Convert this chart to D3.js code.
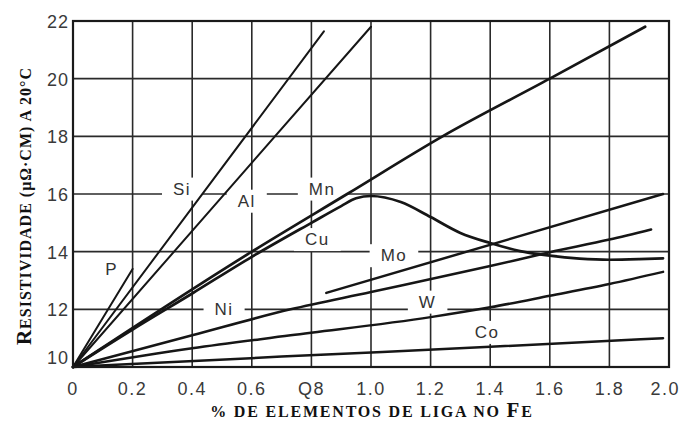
<!DOCTYPE html>
<html>
<head>
<meta charset="utf-8">
<script src="https://cdn.jsdelivr.net/npm/d3@7"></script>
<style>
  body { margin: 0; background: #fff; }
  svg { display: block; }
</style>
</head>
<body>
<div id="chart"></div>
<script>
// % de elemento de liga vs resistividade a 20C
var xTicks = [0, 0.2, 0.4, 0.6, 0.8, 1.0, 1.2, 1.4, 1.6, 1.8, 2.0];
var xTickLabels = ["0", "0.2", "0.4", "0.6", "Q8", "1.0", "1.2", "1.4", "1.6", "1.8", "2.0"];
var yTicks = [10, 12, 14, 16, 18, 20, 22];

var pData = [[0, 10], [0.2, 13.4]];
var siData = [[0, 10], [0.842, 21.64]];
var alData = [[0, 10], [1.0, 21.8]];
var mnData = [[0, 10], [0.6, 14.0], [0.92, 16.0], [1.24, 18.0], [1.6, 20.0], [1.92, 21.8]];
var cuData = [[0, 10], [0.2, 11.3], [0.4, 12.55], [0.6, 13.82], [0.8, 15.0], [0.9, 15.58],
  [0.95, 15.85], [1.0, 15.93], [1.1, 15.72], [1.2, 15.2], [1.3, 14.65], [1.4, 14.3],
  [1.5, 14.02], [1.6, 13.86], [1.7, 13.76], [1.8, 13.72], [1.9, 13.74], [1.98, 13.77]];
var moData = [[0.85, 12.57], [1.98, 16.0]];
var niData = [[0, 10], [0.4, 11.1], [0.73, 12.0], [1.0, 12.6], [1.4, 13.5], [1.6, 13.98], [1.8, 14.42], [1.94, 14.77]];
var wData = [[0, 10], [0.4, 10.65], [0.73, 11.1], [1.2, 11.73], [1.4, 12.07], [1.6, 12.47], [1.8, 12.88], [1.98, 13.3]];
var coData = [[0, 10], [0.7, 10.36], [1.4, 10.7], [1.98, 11.0]];

var labelNames = ["P", "Si", "Al", "Mn", "Cu", "Ni", "Mo", "W", "Co"];
var labelX = [0.13, 0.366, 0.583, 0.836, 0.82, 0.507, 1.077, 1.19, 1.39];
var labelY = [13.37, 16.17, 15.75, 16.17, 14.42, 12.0, 13.86, 12.25, 11.2];

var width = 681, height = 421;

var svg = d3.select("#chart").append("svg")
  .attr("width", width)
  .attr("height", height);

var x = d3.scaleLinear().domain([0, 2]).range([73, 669]);
var y = d3.scaleLinear().domain([10, 22]).range([367, 21]);

var gridG = svg.append("g");
var bgG = svg.append("g");
var lineG = svg.append("g");
var textG = svg.append("g");

// grid
gridG.selectAll("line.v")
  .data(xTicks.slice(1, -1))
  .enter().append("line")
  .attr("x1", function(d) { return x(d); })
  .attr("x2", function(d) { return x(d); })
  .attr("y1", y(10))
  .attr("y2", y(22))
  .style("stroke", "#2a2a2a")
  .style("stroke-width", 1.6);

gridG.selectAll("line.h")
  .data(yTicks.slice(1, -1))
  .enter().append("line")
  .attr("x1", x(0))
  .attr("x2", x(2))
  .attr("y1", function(d) { return y(d); })
  .attr("y2", function(d) { return y(d); })
  .style("stroke", "#2a2a2a")
  .style("stroke-width", 1.6);

// frame
svg.append("rect")
  .attr("x", x(0))
  .attr("y", y(22))
  .attr("width", x(2) - x(0))
  .attr("height", y(10) - y(22))
  .style("fill", "none")
  .style("stroke", "#1a1a1a")
  .style("stroke-width", 2.2);

// curves
var line = d3.line()
  .x(function(d) { return x(d[0]); })
  .y(function(d) { return y(d[1]); })
  .curve(d3.curveMonotoneX);

var series = [pData, siData, alData, mnData, cuData, moData, niData, wData, coData];
var widths = [2, 2, 2, 2.7, 2.7, 2.5, 2.5, 2.5, 2.5];

lineG.selectAll("path")
  .data(series)
  .enter().append("path")
  .attr("d", line)
  .style("fill", "none")
  .style("stroke", "#161616")
  .style("stroke-width", function(d, i) { return widths[i]; })
  .style("stroke-linecap", "round");

// labels on the curves
textG.selectAll("text")
  .data(labelNames)
  .enter().append("text")
  .attr("x", function(d, i) { return x(labelX[i]); })
  .attr("y", function(d, i) { return y(labelY[i]); })
  .attr("text-anchor", "middle")
  .attr("dominant-baseline", "central")
  .style("font-family", "'Liberation Sans', Arial, sans-serif")
  .style("font-size", "17px")
  .style("letter-spacing", "1.5px")
  .style("fill", "#333")
  .text(function(d) { return d; });

textG.selectAll("text").each(function() {
  var b = this.getBBox();
  bgG.append("rect")
    .attr("x", b.x - 11)
    .attr("y", b.y - 2)
    .attr("width", b.width + 22)
    .attr("height", b.height + 4)
    .style("fill", "#fff");
});

// tick labels
svg.selectAll("text.xt")
  .data(xTicks)
  .enter().append("text")
  .attr("class", "xt")
  .attr("x", function(d, i) { return i == xTicks.length - 1 ? 680 : x(d); })
  .attr("y", 395)
  .attr("text-anchor", function(d, i) { return i == xTicks.length - 1 ? "end" : "middle"; })
  .style("font-family", "'Liberation Sans', Arial, sans-serif")
  .style("font-size", "18px")
  .style("letter-spacing", "1.5px")
  .style("fill", "#3a3a3a")
  .text(function(d, i) { return xTickLabels[i]; });

svg.selectAll("text.yt")
  .data(yTicks)
  .enter().append("text")
  .attr("class", "yt")
  .attr("x", 69)
  .attr("y", function(d) { return d == 10 ? y(d) - 3 : y(d) + 7; })
  .attr("text-anchor", "end")
  .style("font-family", "'Liberation Sans', Arial, sans-serif")
  .style("font-size", "18px")
  .style("letter-spacing", "1px")
  .style("fill", "#3a3a3a")
  .text(function(d) { return d; });

// axis titles
var xt = svg.append("text")
  .attr("x", 372)
  .attr("y", 417)
  .attr("text-anchor", "middle")
  .style("font-family", "'Liberation Serif', 'Times New Roman', serif")
  .style("font-weight", "bold")
  .style("letter-spacing", "1.8px")
  .style("fill", "#111");
xt.append("tspan").style("font-size", "16px").text("% DE ELEMENTOS DE LIGA NO ");
xt.append("tspan").style("font-size", "21px").text("F");
xt.append("tspan").style("font-size", "16px").text("E");

var yt = svg.append("text")
  .attr("transform", "translate(31,206) rotate(-90)")
  .attr("text-anchor", "middle")
  .style("font-family", "'Liberation Serif', 'Times New Roman', serif")
  .style("font-weight", "bold")
  .style("letter-spacing", "1px")
  .style("fill", "#111");
yt.append("tspan").style("font-size", "21px").text("R");
yt.append("tspan").style("font-size", "16px").text("ESISTIVIDADE (μΩ·CM) A 20°C");
</script>
</body>
</html>
